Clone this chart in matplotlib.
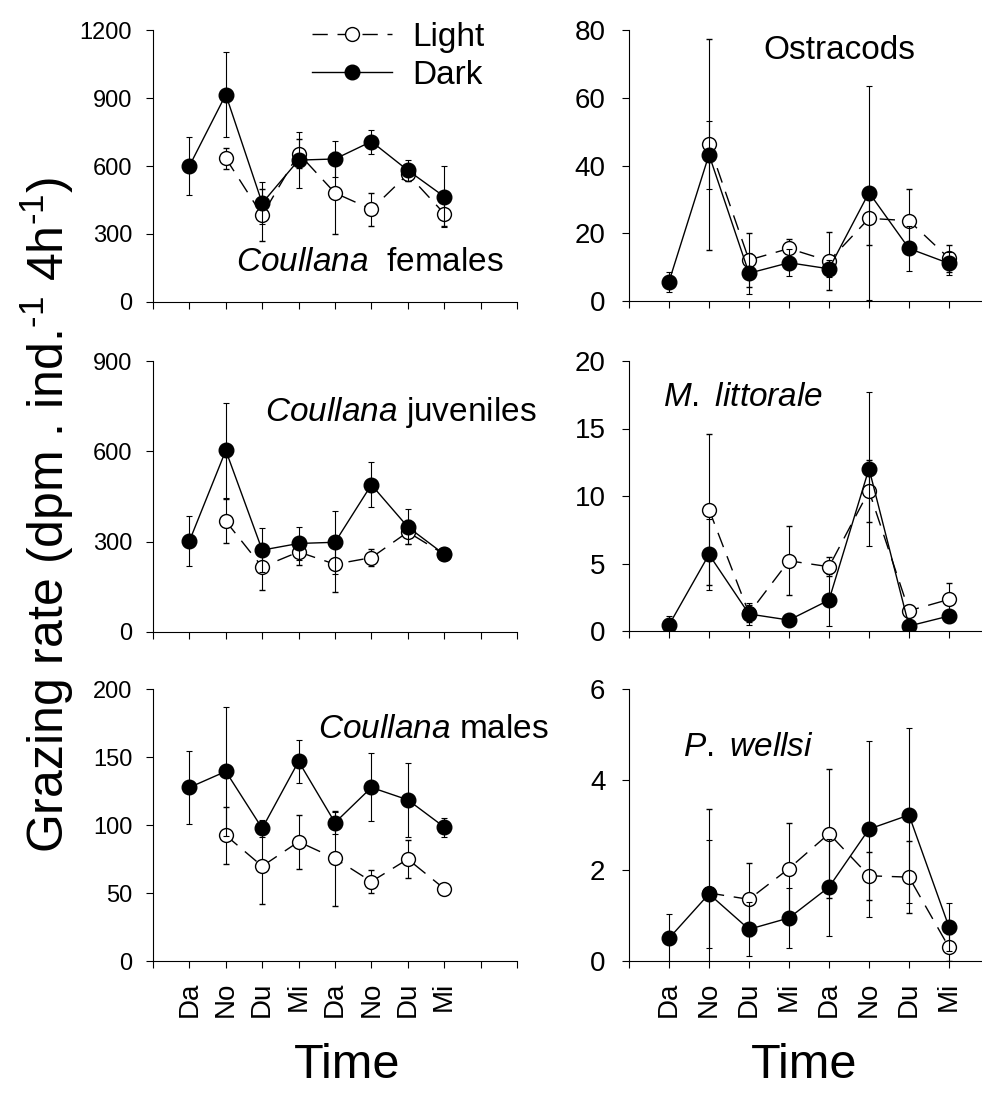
import numpy as np
import matplotlib
matplotlib.use("Agg")
import matplotlib.pyplot as plt
from matplotlib.lines import Line2D

plt.rcParams['font.family'] = ['Liberation Sans', 'DejaVu Sans']
plt.rcParams['mathtext.fontset'] = 'custom'
plt.rcParams['mathtext.rm'] = 'Liberation Sans'
plt.rcParams['mathtext.it'] = 'Liberation Sans:italic'

nan = np.nan
times = ['Da', 'No', 'Du', 'Mi', 'Da', 'No', 'Du', 'Mi']

# Coullana females
fem_dark = [600, 915, 436, 626, 631, 708, 581, 465]
fem_dark_err = [128, 188, 92, 125, 80, 53, 46, 134]
fem_light = [nan, 634, 383, 655, 481, 409, 564, 390]
fem_light_err = [nan, 46, 114, 62, 180, 73, 30, 55]

# Ostracods
ost_dark = [5.7, 43.2, 8.2, 11.3, 9.5, 32.0, 15.5, 11.1]
ost_dark_err = [3, 10, 6, 4, 2.5, 31.6, 6.7, 3.3]
ost_light = [nan, 46.2, 12.1, 15.5, 11.8, 24.4, 23.7, 12.6]
ost_light_err = [nan, 31, 8, 2.7, 8.5, 8, 9.3, 3.9]

# Coullana juveniles
juv_dark = [302, 603, 272, 294, 298, 489, 349, 258]
juv_dark_err = [83, 158, 74, 55, 104, 75, 58, 0]
juv_light = [nan, 368, 216, 266, 225, 247, 332, 258]
juv_light_err = [nan, 74, 75, 45, 92, 29, 40, 0]

# M. littorale
mlit_dark = [0.44, 5.67, 1.26, 0.81, 2.29, 12.03, 0.37, 1.11]
mlit_dark_err = [0.65, 2.6, 0.8, 0.4, 1.9, 5.7, 0.3, 0.3]
mlit_light = [nan, 9.0, 1.3, 5.2, 4.76, 10.38, 1.5, 2.34]
mlit_light_err = [nan, 5.6, 0.6, 2.55, 0.7, 2.3, 0.4, 1.2]

# Coullana males
mal_dark = [127.6, 139.4, 97.5, 146.8, 101.7, 127.6, 118.5, 98.5]
mal_dark_err = [27, 47.6, 6, 16, 8, 25, 27, 7]
mal_light = [nan, 92.4, 69.7, 87.7, 75.4, 58.4, 74.9, 53.2]
mal_light_err = [nan, 21, 28, 20, 35, 8.5, 14, 0]

# P. wellsi
pw_dark = [0.50, 1.48, 0.70, 0.95, 1.63, 2.91, 3.22, 0.75]
pw_dark_err = [0.53, 1.2, 0.6, 0.67, 1.07, 1.95, 1.93, 0.53]
pw_light = [nan, 1.5, 1.36, 2.04, 2.81, 1.88, 1.85, 0.3]
pw_light_err = [nan, 1.85, 0.8, 1.0, 1.42, 0.53, 0.8, 0.3]

x = np.arange(1, 9)
dash = (0, (11, 7))

fig = plt.figure(figsize=(9.82, 10.95), dpi=100)

W, H = 982, 1095
def add_ax(left, top, right, bottom):
    return fig.add_axes([left / W, 1 - bottom / H, (right - left) / W, (bottom - top) / H])

panels = [
    ((153, 30, 517, 302), fem_dark, fem_dark_err, fem_light, fem_light_err, 1200, 300,
     r'$\it{Coullana}$  females', (5.96, 175), 10),
    ((629, 30, 981, 301), ost_dark, ost_dark_err, ost_light, ost_light_err, 80, 20,
     'Ostracods', (5.25, 74), 8.8),
    ((153, 361, 517, 632), juv_dark, juv_dark_err, juv_light, juv_light_err, 900, 300,
     r'$\it{Coullana}$ juveniles', (6.8, 730), 10),
    ((629, 361, 981, 631), mlit_dark, mlit_dark_err, mlit_light, mlit_light_err, 20, 5,
     r'$\it{M.\ littorale}$', (2.85, 17.3), 8.8),
    ((153, 689, 517, 961), mal_dark, mal_dark_err, mal_light, mal_light_err, 200, 50,
     r'$\it{Coullana}$ males', (7.7, 170), 10),
    ((629, 689, 981, 961), pw_dark, pw_dark_err, pw_light, pw_light_err, 6, 2,
     r'$\it{P.\ wellsi}$', (2.98, 4.72), 8.8),
]

for i, (box, dk, dke, lt, lte, ymax, ystep, label, lpos, xmax) in enumerate(panels):
    ax = add_ax(*box)
    right_col = (i % 2 == 1)
    ax.errorbar(x, lt, yerr=lte, fmt='o', ls=dash, color='k', lw=1.0,
                mfc='white', mec='k', mew=1.0, ms=10, elinewidth=0.8, capsize=2.5,
                capthick=0.8, zorder=3)
    ax.errorbar(x, dk, yerr=dke, fmt='o', ls='-', color='k', lw=1.0,
                mfc='k', mec='k', ms=10.5, elinewidth=0.8, capsize=2.5,
                capthick=0.8, zorder=4)
    ax.set_xlim(0, xmax)
    ax.set_ylim(0, ymax)
    ax.set_yticks(np.arange(0, ymax + ystep / 2, ystep))
    ticks = np.arange(0, 9) if right_col else np.arange(0, 11)
    ax.set_xticks(ticks)
    if i >= 4:
        labs = [''] + times + [''] * (len(ticks) - 9)
        ax.set_xticklabels(labs, rotation=90, fontsize=20)
    else:
        ax.set_xticklabels([])
    for side in ['top', 'right']:
        ax.spines[side].set_visible(False)
    for side in ['left', 'bottom']:
        ax.spines[side].set_linewidth(0.8)
    ax.tick_params(axis='y', direction='out', length=5, width=0.8,
                   pad=12 if right_col else 10,
                   labelsize=20 if right_col else 17)
    ax.tick_params(axis='x', direction='out', length=5, width=0.8, pad=10)
    ax.text(lpos[0], lpos[1], label, fontsize=24, ha='center', va='center')
    if i == 0:
        h_light = Line2D([], [], ls=dash, color='k', lw=1.0, marker='o',
                         mfc='white', mec='k', ms=10)
        h_dark = Line2D([], [], ls='-', color='k', lw=1.0, marker='o',
                        mfc='k', mec='k', ms=10.5)
        fig.legend([h_light, h_dark], ['Light', 'Dark'], loc='upper left',
                   bbox_to_anchor=(312 / W, 1 - 22 / H), frameon=False,
                   fontsize=24, handlelength=2.4, handletextpad=0.6,
                   labelspacing=0.2, borderpad=0, borderaxespad=0)

fig.text(47 / W, 1 - 515 / H,
         r'Grazing rate (dpm . ind.$^{\text{-1}}$ 4h$^{\text{-1}}$)',
         rotation=90, fontsize=36, ha='center', va='center')
fig.text(347 / W, 1 - 1065 / H, 'Time', fontsize=35, ha='center', va='center')
fig.text(804 / W, 1 - 1065 / H, 'Time', fontsize=35, ha='center', va='center')

fig.savefig('out.png', dpi=100)
